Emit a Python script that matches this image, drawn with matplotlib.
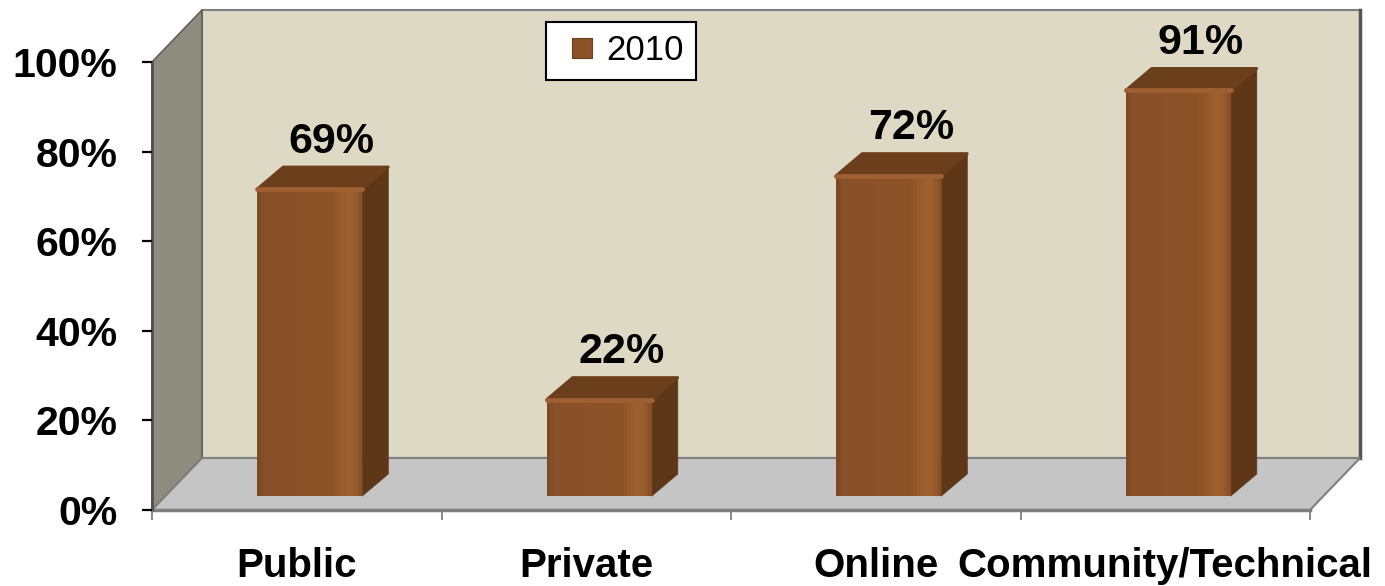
"""Share of respondents by channel type, 2010 -- 3-D style column chart."""
import matplotlib
matplotlib.use("Agg")
import matplotlib.pyplot as plt
from matplotlib.colors import LinearSegmentedColormap
from matplotlib.lines import Line2D
from matplotlib.patches import Polygon, Rectangle

plt.rcParams["font.family"] = ["Liberation Sans", "DejaVu Sans"]

categories = ["Public", "Private", "Online", "Community/Technical"]
values_2010 = [69, 22, 72, 91]
series_name = "2010"
y_ticks = [0, 20, 40, 60, 80, 100]

W, H, DPI = 1385, 586, 100

# depth offsets in pixels
WALL = (50, 52)
BAR_FRONT = (13, 14)
BAR_DEPTH = (26, 22)
BAR_WIDTH = 0.363

WALL_C = "#DDD9C4"
SIDE_WALL_C = "#8D8C7D"
FLOOR_C = "#C5C5C5"
EDGE_C = "#7F7F7F"
FRONT_C = "#8B5228"
TOP_C = "#6C3F1C"
SIDE_C = "#5E3719"
HILITE_C = "#9E5F31"

fig = plt.figure(figsize=(W / DPI, H / DPI), dpi=DPI)
ax = fig.add_axes([152 / W, (H - 510) / H, (1310 - 152) / W, 448 / H])
n = len(categories)
ax.set_xlim(0, n)
ax.set_ylim(0, 100)
ax.patch.set_visible(False)
for s in ax.spines.values():
    s.set_visible(False)

# pixels -> data units
px_x = (ax.transData.transform((1, 0)) - ax.transData.transform((0, 0)))[0]
px_y = (ax.transData.transform((0, 1)) - ax.transData.transform((0, 0)))[1]


def d(off):
    return off[0] / px_x, off[1] / px_y


wdx, wdy = d(WALL)
fdx, fdy = d(BAR_FRONT)
bdx, bdy = d(BAR_DEPTH)
bw = BAR_WIDTH

# walls and floor
ax.add_patch(Rectangle((wdx, wdy), n, 100, fc=WALL_C, ec=EDGE_C, lw=1.5,
                       clip_on=False, zorder=1))
ax.plot([n + wdx, n + wdx], [wdy, 100 + wdy], color="#555555", lw=2.5,
        clip_on=False, zorder=1.1)
ax.add_patch(Polygon([(0, 0), (0, 100), (wdx, 100 + wdy), (wdx, wdy)],
                     closed=True, fc=SIDE_WALL_C, ec="#606060", lw=1.2,
                     clip_on=False, zorder=1.2))
ax.add_patch(Polygon([(0, 0), (n, 0), (n + wdx, wdy), (wdx, wdy)],
                     closed=True, fc=FLOOR_C, ec=EDGE_C, lw=1.5,
                     clip_on=False, zorder=1.3))
ax.plot([0, n], [0, 0], color=EDGE_C, lw=2.5, clip_on=False, zorder=1.4)
ax.plot([0, 0], [0, 100], color="#505050", lw=2, clip_on=False, zorder=1.4)

# columns: shaded front, dark side, darker top with a light bevel edge
shade = LinearSegmentedColormap.from_list(
    "front", [(0, "#7A4520"), (0.06, "#89512A"), (0.7, "#8B5228"),
              (0.88, "#A0612F"), (0.95, "#94592B"), (1, "#854D25")])
n_strips = 30
for i, v in enumerate(values_2010):
    cx = i + 0.5
    x0 = cx - bw / 2 + fdx
    x1 = x0 + bw
    y0 = fdy
    y1 = v + fdy * 0.85
    for k in range(n_strips):
        ax.add_patch(Rectangle((x0 + bw * k / n_strips, y0), bw / n_strips * 1.05,
                               y1 - y0, fc=shade((k + 0.5) / n_strips), ec="none",
                               zorder=3, clip_on=False))
    ax.add_patch(Polygon([(x1, y0), (x1, y1), (x1 + bdx, y1 + bdy), (x1 + bdx, y0 + bdy)],
                         closed=True, fc=SIDE_C, ec=SIDE_C, lw=0.5,
                         joinstyle="round", zorder=2.9, clip_on=False))
    ax.add_patch(Polygon([(x0, y1), (x1, y1), (x1 + bdx, y1 + bdy), (x0 + bdx, y1 + bdy)],
                         closed=True, fc=TOP_C, ec=TOP_C, lw=2,
                         joinstyle="round", zorder=3.1, clip_on=False))
    ax.plot([x0, x1], [y1, y1], color=HILITE_C, lw=3.5,
            solid_capstyle="round", zorder=3.2, clip_on=False)
    ax.annotate(f"{v}%", xy=(cx, v), xytext=(35, 48), textcoords="offset pixels",
                ha="center", va="baseline", fontsize=31, fontweight="bold",
                zorder=5, annotation_clip=False)

# axes ticks
ax.set_yticks(y_ticks)
ax.set_yticklabels([f"{t}%" for t in y_ticks])
ax.tick_params(axis="y", direction="out", length=7, width=1.6, pad=18,
               labelsize=29.5, color="black")
for lab in ax.get_yticklabels():
    lab.set_fontweight("bold")
ax.set_xticks(range(n + 1))
ax.set_xticklabels([])
ax.tick_params(axis="x", direction="out", length=7, width=1.3, color=EDGE_C)

# category labels centred under each column
for i, name in enumerate(categories):
    ax.annotate(name, xy=(i + 0.5, 0), xytext=(0, -67), textcoords="offset pixels",
                ha="center", va="baseline", fontsize=29, fontweight="bold",
                annotation_clip=False)

handle = Line2D([], [], ls="none", marker="s", markersize=14,
                mfc=FRONT_C, mec="#6B3E1C", mew=0.8)
leg = fig.legend([handle], [series_name], loc="center",
                 bbox_to_anchor=(621 / W, 1 - 51 / H), fontsize=25,
                 frameon=True, fancybox=False, framealpha=1, edgecolor="black",
                 handlelength=1.4, handletextpad=0.0,
                 borderpad=0.35, borderaxespad=0)
leg.get_frame().set_linewidth(1.5)

fig.savefig("out.png", dpi=DPI, facecolor="white")
